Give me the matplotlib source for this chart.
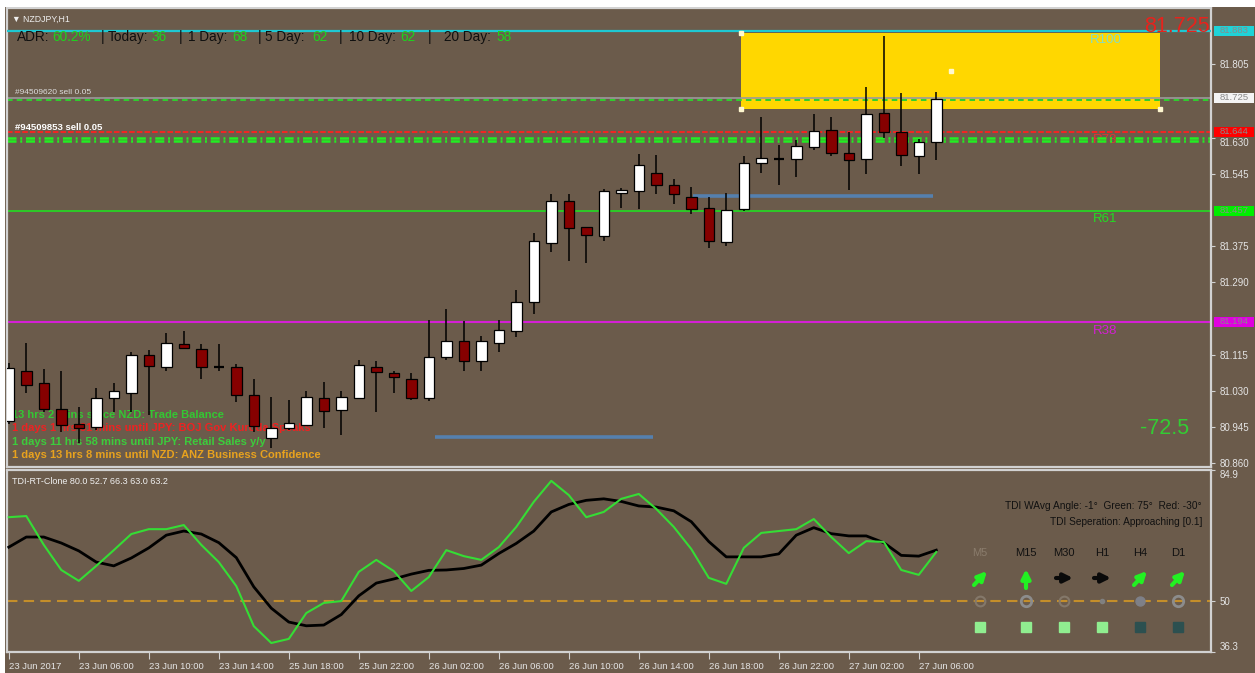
import matplotlib
matplotlib.use('Agg')
import matplotlib.pyplot as plt
import matplotlib.transforms as mtransforms
from matplotlib.patches import Rectangle

plt.rcParams['font.family'] = ['Liberation Sans', 'DejaVu Sans']
plt.rcParams['lines.scale_dashes'] = False

# ---------------- data ----------------
opens = [80.959, 81.078, 81.049, 80.987, 80.952, 80.945, 81.014, 81.026, 81.117, 81.087,
         81.141, 81.129, 81.087, 81.087, 81.020, 80.919, 80.944, 80.951, 81.015, 80.985,
         81.014, 81.087, 81.074, 81.059, 81.013, 81.111, 81.148, 81.101, 81.145, 81.173,
         81.242, 81.381, 81.481, 81.420, 81.398, 81.500, 81.504, 81.548, 81.520, 81.491,
         81.465, 81.384, 81.461, 81.570, 81.581, 81.581, 81.609, 81.650, 81.594, 81.581,
         81.690, 81.644, 81.588, 81.621]
highs = [81.098, 81.144, 81.083, 81.079, 80.992, 81.038, 81.049, 81.122, 81.128, 81.168,
         81.174, 81.141, 81.141, 81.095, 81.060, 81.017, 81.009, 81.031, 81.051, 81.031,
         81.103, 81.101, 81.079, 81.074, 81.198, 81.224, 81.196, 81.160, 81.198, 81.270,
         81.406, 81.498, 81.497, 81.420, 81.510, 81.512, 81.592, 81.589, 81.532, 81.514,
         81.490, 81.500, 81.588, 81.680, 81.614, 81.625, 81.686, 81.680, 81.644, 81.750,
         81.871, 81.736, 81.627, 81.740]
lows = [80.952, 81.026, 80.981, 80.933, 80.908, 80.938, 80.981, 80.981, 80.973, 81.078,
        81.132, 81.058, 81.079, 81.005, 80.933, 80.896, 80.938, 80.947, 80.944, 80.926,
        81.011, 80.981, 81.026, 81.009, 81.007, 81.103, 81.079, 81.079, 81.124, 81.158,
        81.213, 81.360, 81.339, 81.333, 81.385, 81.465, 81.462, 81.497, 81.473, 81.450,
        81.369, 81.375, 81.457, 81.548, 81.520, 81.538, 81.601, 81.588, 81.508, 81.545,
        81.630, 81.564, 81.545, 81.577]
closes = [81.084, 81.046, 80.987, 80.949, 80.942, 81.015, 81.031, 81.117, 81.091, 81.144,
          81.133, 81.087, 81.086, 81.020, 80.947, 80.942, 80.955, 81.017, 80.983, 81.017,
          81.093, 81.075, 81.063, 81.014, 81.111, 81.148, 81.101, 81.148, 81.176, 81.242,
          81.385, 81.481, 81.417, 81.401, 81.504, 81.508, 81.566, 81.518, 81.498, 81.463,
          81.385, 81.459, 81.572, 81.584, 81.582, 81.611, 81.646, 81.594, 81.578, 81.688,
          81.644, 81.589, 81.621, 81.722]

tdi_green = [72.3, 72.6, 64.9, 58.2, 55.3, 59.3, 63.5, 67.8, 69.1, 69.1,
             70.2, 64.9, 60.3, 53.9, 43.2, 38.7, 39.8, 46.7, 49.4, 49.9,
             57.7, 60.9, 57.9, 52.6, 56.3, 63.5, 61.9, 60.9, 64.3, 69.7,
             76.4, 82.0, 78.2, 72.3, 73.7, 77.2, 78.5, 74.5, 69.7, 63.8,
             56.1, 54.5, 64.1, 68.1, 68.6, 69.1, 71.8, 67.0, 62.7, 65.9,
             65.7, 58.2, 56.9, 63.0]
tdi_signal = [64.3, 67.0, 67.0, 65.4, 63.3, 60.3, 59.3, 61.4, 64.1, 67.5,
              68.6, 67.8, 65.5, 61.5, 53.7, 48.0, 44.3, 43.3, 43.5, 46.3,
              51.3, 54.7, 55.8, 57.1, 58.1, 58.2, 58.6, 59.5, 62.6, 65.3,
              68.6, 73.7, 75.7, 76.8, 77.2, 76.5, 75.3, 75.0, 74.0, 71.1,
              65.8, 61.7, 61.7, 61.7, 62.5, 67.5, 69.5, 67.9, 67.3, 67.3,
              65.5, 62.1, 61.9, 63.5]

time_labels = ['23 Jun 2017', '23 Jun 06:00', '23 Jun 10:00', '23 Jun 14:00',
               '25 Jun 18:00', '25 Jun 22:00', '26 Jun 02:00', '26 Jun 06:00',
               '26 Jun 10:00', '26 Jun 14:00', '26 Jun 18:00', '26 Jun 22:00',
               '27 Jun 02:00', '27 Jun 06:00']
time_label_step = 4

price_ticks = [81.805, 81.630, 81.545, 81.375, 81.290, 81.115, 81.030, 80.945, 80.860]

level_cyan = 81.883
level_sell = 81.725
level_red = 81.644
level_fib61 = 81.457
level_fib38 = 81.194
level_green_dd = [81.631, 81.622]
zone_high = 81.880
zone_low = 81.699
blue_segments = [(39.1, 52.8, 81.493), (24.35, 36.8, 80.921)]

box_labels = [(81.883, '81.883', '#1fd3d8'), (81.725, '81.725', '#f4f4f4'),
              (81.644, '81.644', '#ff0000'), (81.457, '81.457', '#00ee00'),
              (81.194, '81.194', '#e000e0')]

header_tokens = [('ADR:', 17, 'k'), ('60.2%', 52, 'g'), ('|', 101, 'k'), ('Today:', 108, 'k'),
                 ('36', 152, 'g'), ('|', 179, 'k'), ('1 Day:', 188, 'k'), ('68', 232, 'g'),
                 ('|', 258, 'k'), ('5 Day:', 265, 'k'), ('62', 312, 'g'), ('|', 339, 'k'),
                 ('10 Day:', 349, 'k'), ('62', 400, 'g'), ('|', 428, 'k'),
                 ('20 Day:', 444, 'k'), ('58', 496, 'g')]

news_lines = [('13 hrs 2 mins since NZD: Trade Balance', '#33c833'),
              ('1 days 1 hrs 31 mins until JPY: BOJ Gov Kuroda Speaks', '#ee2222'),
              ('1 days 11 hrs 58 mins until JPY: Retail Sales y/y', '#3ccc3c'),
              ('1 days 13 hrs 8 mins until NZD: ANZ Business Confidence', '#e8a21e')]

tf_names = ['M5', 'M15', 'M30', 'H1', 'H4', 'D1']
tf_arrow = ['ne', 'up', 'right', 'right', 'ne', 'ne']
tf_circle = ['faint', 'ring', 'faint', 'dot', 'filled', 'ring']
tf_square = ['light', 'light', 'light', 'light', 'dark', 'dark']

# ---------------- figure ----------------
W, H = 1255, 673
BG = '#6b5b4b'
FRAME = '#d2d2d2'
AXTXT = '#e4e4e4'

fig = plt.figure(figsize=(W / 100, H / 100), dpi=100, facecolor=BG)


def P(px, py):
    return (px / W, 1 - py / H)


ax = fig.add_axes([7 / W, 1 - 467 / H, 1204 / W, 459 / H], facecolor=BG)
ax2 = fig.add_axes([7 / W, 1 - 652 / H, 1204 / W, 182 / H], facecolor=BG)

for a in (ax, ax2):
    a.set_xlim(-0.103, 68.7)
    for s in a.spines.values():
        s.set_color(FRAME)
        s.set_linewidth(1.6)
ax.set_ylim(80.8505, 81.9384)
ax2.set_ylim(36.3, 84.9)

# white outer strips
fig.patches.append(Rectangle((0, 1 - 7 / H), 1, 7 / H, transform=fig.transFigure,
                             facecolor='white', edgecolor='none', zorder=1))
fig.patches.append(Rectangle((0, 0), 5 / W, 1, transform=fig.transFigure,
                             facecolor='white', edgecolor='none', zorder=1))

# ---- main panel ----
ax.add_patch(Rectangle((41.84, zone_low), 65.78 - 41.84, zone_high - zone_low,
                       facecolor='#ffd700', edgecolor='none', zorder=1))
for (px, py) in [(741, 33), (741, 109), (1160, 109), (951, 71)]:
    ax.plot(*P(px, py), marker='s', ms=3, color='#fff8d0', transform=fig.transFigure,
            zorder=6, clip_on=False)

for x0, x1, p in blue_segments:
    ax.hlines(p, x0, x1, color='#5580ae', lw=2.6, zorder=2)

ax.axhline(level_cyan, color='#1ec8d2', lw=1.6, zorder=5)
ax.axhline(level_sell - 0.004, color='#2ed02e', lw=1.4, ls=(0, (4, 3)), zorder=2)
ax.axhline(level_sell, color='#9a9a9a', lw=1.2, zorder=2.1)
ax.axhline(level_red, color='#ff2020', lw=1.3, ls=(0, (4, 1.5)), zorder=2)
for p in level_green_dd:
    ax.axhline(p, color='#22ee22', lw=1.8, ls=(0, (6.5, 2.7, 1.4, 2.7)), zorder=2)
ax.axhline(level_fib61, color='#22dd22', lw=1.2, zorder=2)
ax.axhline(level_fib38, color='#d41fd4', lw=1.5, zorder=2)

# fib labels
ax.text(*P(1090, 40), 'R100', color='#86dcc4', fontsize=9.5, va='center', ha='left',
        transform=fig.transFigure, zorder=1.5)
ax.text(*P(1093, 140), 'R78', color='#e03434', fontsize=9.5, va='center', ha='left',
        transform=fig.transFigure, zorder=1.5)
ax.text(*P(1093, 219), 'R61', color='#22dd22', fontsize=9.5, va='center', ha='left',
        transform=fig.transFigure, zorder=1.5)
ax.text(*P(1093, 331), 'R38', color='#d41fd4', fontsize=9.5, va='center', ha='left',
        transform=fig.transFigure, zorder=1.5)

ax.text(*P(1210, 26), '81.725', color='#e8221c', fontsize=15.5, va='center', ha='right',
        transform=fig.transFigure, zorder=7)
ax.text(*P(1165, 428), '-72.5', color='#33cc33', fontsize=15.5, va='center', ha='center',
        transform=fig.transFigure, zorder=7)

# order labels
ax.text(*P(15, 93), '#94509620 sell 0.05', color='#dcdcdc', fontsize=6, va='center',
        ha='left', transform=fig.transFigure, zorder=3)
ax.text(*P(15, 128), '#94509853 sell 0.05', color='white', fontsize=6.8, va='center',
        ha='left', transform=fig.transFigure, zorder=3, fontweight='bold')

# news text (behind candles)
for k, (s, c) in enumerate(news_lines):
    ax.text(*P(12, 415 + 13.3 * k), s, color=c, fontsize=8, fontweight='bold',
            va='center', ha='left', transform=fig.transFigure, zorder=2.5)

# candles
BODY_W = 0.6
for i, (o, h, l, c) in enumerate(zip(opens, highs, lows, closes)):
    ax.vlines(i, l, h, color='black', lw=1.1, zorder=3)
    lo, hi = min(o, c), max(o, c)
    if hi - lo < 0.003:
        ax.hlines((o + c) / 2, i - BODY_W / 2, i + BODY_W / 2, color='black', lw=1.6, zorder=4)
    else:
        ax.add_patch(Rectangle((i - BODY_W / 2, lo), BODY_W, hi - lo,
                               facecolor='white' if c >= o else '#860000',
                               edgecolor='black', lw=0.9, zorder=4))

# header
ax.text(*P(12, 19), '\u25bc NZDJPY,H1', color='#eeeeee', fontsize=6.3, va='center',
        ha='left', transform=fig.transFigure, zorder=7)
for s, x, c in header_tokens:
    ax.text(*P(x, 37), s, color='#101010' if c == 'k' else '#1ed21e', fontsize=9.8,
            va='center', ha='left', transform=fig.transFigure, zorder=7)

# axes ticks main
ax.set_xticks([])
ax.yaxis.tick_right()
ax.set_yticks(price_ticks)
ax.set_yticklabels([f'{v:.3f}' for v in price_ticks])
ax.tick_params(axis='y', length=3, width=0.8, color=FRAME, labelcolor=AXTXT,
               labelsize=7, pad=3)
# the 81.630 label peeks out just below the red order box
ax.get_yticklabels()[1].set_va('top')

btrans = mtransforms.blended_transform_factory(fig.transFigure, ax.transData)
bh = 10 / 421.9
for p, s, fc in box_labels:
    ax.add_patch(Rectangle((1214 / W, p - bh / 2 + 0.001), 40 / W, bh, transform=btrans,
                           facecolor=fc, edgecolor='none', zorder=8, clip_on=False))
    ax.text(1234 / W, p + 0.001, s, transform=btrans, color='#8a8a8a', fontsize=6.8,
            ha='center', va='center', zorder=9, clip_on=False)

# ---- TDI panel ----
xs = list(range(len(tdi_green)))
ax2.axhline(50, color='#c48e2a', lw=1.5, ls=(0, (7.5, 4.5)), zorder=1)
ax2.plot(xs, tdi_signal, color='black', lw=2.0, zorder=3)
ax2.plot(xs, tdi_green, color='#35dd35', lw=1.5, zorder=4)

ax2.text(*P(12, 481), 'TDI-RT-Clone 80.0 52.7 66.3 63.0 63.2', color='#f0f0f0',
         fontsize=6.5, va='center', ha='left', transform=fig.transFigure)
ax2.text(*P(1202, 506), 'TDI WAvg Angle: -1\u00b0  Green: 75\u00b0  Red: -30\u00b0',
         color='#111111', fontsize=7.3, va='center', ha='right', transform=fig.transFigure)
ax2.text(*P(1202, 522), 'TDI Seperation: Approaching [0.1]', color='#111111',
         fontsize=7.3, va='center', ha='right', transform=fig.transFigure)

tf_x = [980, 1026, 1064, 1102, 1140, 1178]
for name, x, arr, circ, sq in zip(tf_names, tf_x, tf_arrow, tf_circle, tf_square):
    ax2.text(*P(x, 553), name, color='#8a7c6c' if name == 'M5' else '#111111',
             fontsize=8, va='center', ha='center', transform=fig.transFigure)
    if arr == 'ne':
        a0, a1, col = (x - 6, 585), (x + 7, 571), '#22f022'
    elif arr == 'up':
        a0, a1, col = (x, 588), (x, 569), '#22f022'
    else:
        a0, a1, col = (x - 8, 578), (x + 9, 578), '#0a0a0a'
    ax2.annotate('', xy=P(*a1), xytext=P(*a0), xycoords='figure fraction',
                 textcoords='figure fraction',
                 arrowprops=dict(arrowstyle='-|>', color=col, lw=3.0, mutation_scale=13,
                                 shrinkA=0, shrinkB=0))
    if circ == 'faint':
        ax2.plot(*P(x, 601), marker='o', ms=7, mfc='none', mec='#84786a', mew=1.5,
                 transform=fig.transFigure, zorder=5)
    elif circ == 'ring':
        ax2.plot(*P(x, 601), marker='o', ms=7.5, mfc='none', mec='#8c8c8c', mew=2,
                 transform=fig.transFigure, zorder=5)
    elif circ == 'dot':
        ax2.plot(*P(x, 601), marker='o', ms=3, color='#808080',
                 transform=fig.transFigure, zorder=5)
    else:
        ax2.plot(*P(x, 601), marker='o', ms=6.5, color='#7e8088',
                 transform=fig.transFigure, zorder=5)
    ax2.plot(*P(x, 627), marker='s', ms=7.2,
             color='#90ee90' if sq == 'light' else '#2c5050',
             transform=fig.transFigure, zorder=5)

ax2.yaxis.tick_right()
ax2.set_yticks([84.9, 50, 36.3])
ax2.set_yticklabels(['84.9', '50', '36.3'])
ax2.tick_params(axis='y', length=3, width=0.8, color=FRAME, labelcolor=AXTXT,
                labelsize=7, pad=3)
yl = ax2.get_yticklabels()
yl[0].set_va('top')
yl[2].set_va('bottom')

tick_pos = [k * time_label_step for k in range(len(time_labels))]
ax2.set_xticks(tick_pos)
ax2.set_xticklabels(time_labels, ha='left')
ax2.tick_params(axis='x', length=5, width=0.8, color=FRAME, labelcolor=AXTXT,
                labelsize=6.8, pad=2)

fig.savefig('out.png', dpi=100, facecolor=BG)
